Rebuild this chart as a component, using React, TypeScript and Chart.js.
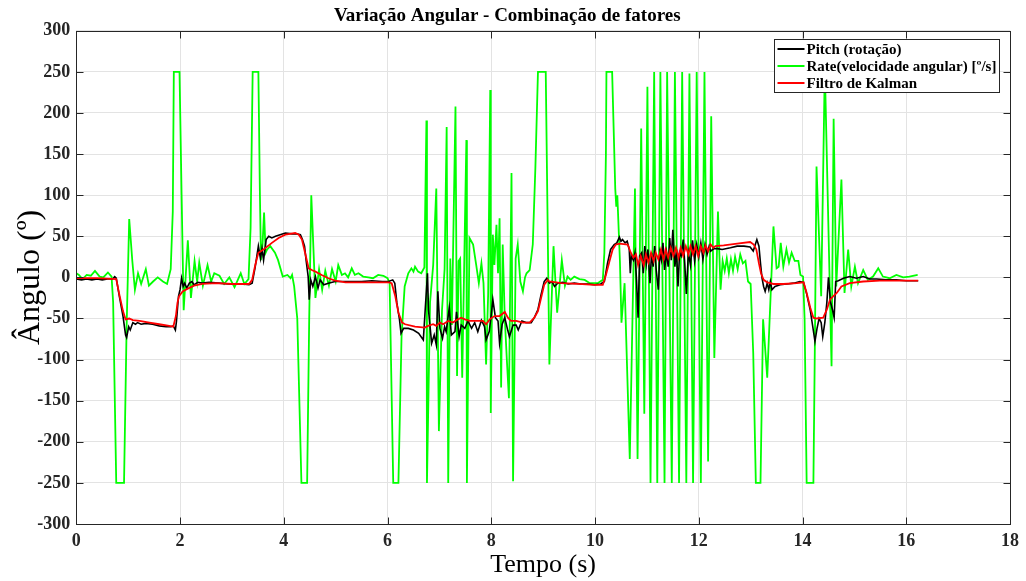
import React, { useEffect, useRef } from 'react';
import { Chart, registerables } from 'chart.js';

Chart.register(...registerables);

const TITLE = 'Variação Angular - Combinação de fatores';
const X_LABEL = 'Tempo (s)';
const Y_LABEL = 'Ângulo (º)';
const SERIES_NAMES = ['Pitch (rotação)', 'Rate(velocidade angular) [º/s]', 'Filtro de Kalman'];
const SERIES_COLORS = ['#000000', '#00ff00', '#ff0000'];
const X_TICKS = [0, 2, 4, 6, 8, 10, 12, 14, 16, 18];
const Y_TICKS = [-300, -250, -200, -150, -100, -50, 0, 50, 100, 150, 200, 250, 300];

// [time (s), value]
const pitchPts: [number, number][] = [
  [0, -2], [0.1, -3], [0.2, -2], [0.3, -3], [0.4, -2], [0.5, -3], [0.6, -2], [0.7, -2], [0.74, 1], [0.77, -1],
  [0.83, -23], [0.9, -47], [0.95, -70], [0.97, -73], [1.01, -60], [1.04, -64], [1.09, -55], [1.14, -57], [1.18, -55],
  [1.25, -57], [1.34, -56], [1.47, -57], [1.6, -59], [1.73, -60], [1.82, -60], [1.87, -59], [1.91, -64], [1.93, -54],
  [1.97, -23], [2.0, -15], [2.03, -1], [2.06, -11], [2.09, -7], [2.13, -13], [2.18, -7], [2.23, -5], [2.27, -9],
  [2.34, -6], [2.43, -7], [2.56, -6], [2.75, -7], [2.94, -8], [3.2, -8], [3.33, -9], [3.39, -7], [3.45, 13],
  [3.51, 38], [3.55, 23], [3.58, 35], [3.61, 21], [3.66, 46], [3.71, 50], [3.77, 48], [3.84, 50], [3.93, 52],
  [4.03, 54], [4.16, 53], [4.25, 53], [4.32, 52], [4.36, 46], [4.4, 38], [4.43, 21], [4.47, 1], [4.49, -27],
  [4.52, -3], [4.56, -11], [4.61, 1], [4.66, -13], [4.7, -3], [4.77, -9], [4.86, -7], [4.99, -5], [5.1, -5],
  [5.3, -5], [5.5, -5], [5.7, -4], [5.9, -5], [6.02, -5], [6.1, -3], [6.14, -7], [6.18, -31], [6.23, -51],
  [6.26, -68], [6.31, -62], [6.4, -62], [6.5, -64], [6.6, -68], [6.69, -76], [6.77, 5], [6.79, -40], [6.85, -80],
  [6.9, -70], [6.94, -82], [6.97, -17], [7.01, -62], [7.06, -74], [7.1, -60], [7.13, -66], [7.19, -37], [7.23, -70],
  [7.3, -66], [7.33, -42], [7.38, -72], [7.42, -58], [7.49, -62], [7.55, -53], [7.62, -62], [7.68, -55], [7.74, -66],
  [7.81, -52], [7.87, -60], [7.9, -76], [7.96, -66], [8.0, -45], [8.03, -27], [8.08, -49], [8.13, -53], [8.16, -80],
  [8.21, -57], [8.26, -49], [8.32, -65], [8.35, -72], [8.42, -58], [8.48, -58], [8.52, -64], [8.59, -53], [8.67, -55],
  [8.77, -55], [8.83, -49], [8.9, -39], [8.96, -21], [9.02, -5], [9.07, -1], [9.12, -7], [9.17, -5], [9.22, -11],
  [9.28, -7], [9.38, -6], [9.48, -8], [9.6, -7], [9.73, -8], [9.86, -8], [9.99, -9], [10.11, -8], [10.18, -5],
  [10.24, 17], [10.3, 34], [10.37, 40], [10.42, 42], [10.47, 49], [10.5, 44], [10.53, 46], [10.58, 42], [10.62, 44],
  [10.66, 34], [10.68, 5], [10.7, 26], [10.74, 21], [10.77, 30], [10.8, -3], [10.83, -49], [10.86, 26], [10.9, 30],
  [10.93, 5], [10.96, 38], [10.99, 17], [11.02, 34], [11.06, -7], [11.09, 30], [11.12, 13], [11.15, 38], [11.18, 9],
  [11.22, -15], [11.25, 30], [11.28, 21], [11.31, 42], [11.34, 9], [11.38, 30], [11.41, 13], [11.44, 48], [11.47, 21],
  [11.5, 58], [11.54, 13], [11.57, 34], [11.6, -11], [11.63, 30], [11.66, 26], [11.7, 46], [11.73, 17], [11.76, -20],
  [11.8, 30], [11.84, 15], [11.88, 45], [11.92, 20], [11.96, 40], [12.0, 25], [12.04, 42], [12.08, 22], [12.12, 40],
  [12.16, 28], [12.2, 38], [12.23, 32], [12.29, 35], [12.36, 35], [12.45, 34], [12.61, 36], [12.74, 38], [12.87, 38],
  [12.99, 37], [13.05, 32], [13.09, 40], [13.12, 46], [13.16, 38], [13.19, 17], [13.22, -1], [13.25, -11], [13.28, -17],
  [13.32, -7], [13.35, -15], [13.38, -5], [13.41, -15], [13.47, -11], [13.57, -9], [13.7, -8], [13.83, -7], [13.95, -5],
  [14.02, -6], [14.08, -20], [14.15, -40], [14.21, -65], [14.24, -78], [14.28, -62], [14.32, -50], [14.36, -55],
  [14.39, -72], [14.43, -55], [14.47, -30], [14.5, 0], [14.54, -30], [14.58, -40], [14.61, -49], [14.64, -5],
  [14.69, -4], [14.79, -1], [14.91, 1], [15.04, -1], [15.17, 1], [15.3, -2], [15.43, -2], [15.62, -3], [15.81, -3],
  [16.0, -4], [16.23, -4],
];

const ratePts: [number, number][] = [
  [0, 5], [0.05, 3], [0.12, -2], [0.2, 3], [0.28, 2], [0.36, 8], [0.45, 1], [0.52, 0], [0.61, 6], [0.68, 1],
  [0.71, -30], [0.77, -250], [0.92, -250], [0.97, -60], [1.02, 71], [1.08, 20], [1.13, -15], [1.19, 5], [1.25, -8],
  [1.3, 2], [1.34, 10], [1.4, -10], [1.48, -5], [1.57, 0], [1.67, -5], [1.75, -8], [1.82, 10], [1.86, 80],
  [1.88, 250], [1.99, 250], [2.03, 100], [2.07, -40], [2.15, 45], [2.21, -25], [2.28, 20], [2.33, -5], [2.37, 18],
  [2.44, -10], [2.53, 15], [2.6, -5], [2.66, 5], [2.76, 2], [2.85, -8], [2.95, 0], [3.05, -12], [3.17, 5],
  [3.24, -8], [3.32, -2], [3.36, 60], [3.4, 250], [3.51, 250], [3.54, 100], [3.56, 21], [3.59, 40], [3.62, 79],
  [3.65, 30], [3.68, 34], [3.74, 38], [3.83, 30], [3.89, 21], [3.98, 1], [4.07, 3], [4.13, -1], [4.16, 3],
  [4.2, -11], [4.26, -50], [4.34, -250], [4.45, -250], [4.49, -50], [4.53, 100], [4.61, -25], [4.68, 10], [4.74, -15],
  [4.8, 8], [4.87, -10], [4.93, 10], [5.0, -5], [5.05, 15], [5.12, 3], [5.18, 5], [5.24, 0], [5.31, 11],
  [5.37, 3], [5.44, 5], [5.53, 1], [5.63, 0], [5.72, -1], [5.82, 3], [5.92, 2], [6.0, -1], [6.04, -7],
  [6.11, -250], [6.21, -250], [6.27, -72], [6.33, -11], [6.4, 5], [6.46, 11], [6.5, 7], [6.53, 13], [6.59, 7],
  [6.65, 5], [6.71, 12], [6.75, 191], [6.76, -250], [6.82, -30], [6.88, 15], [6.94, 108], [6.99, -187], [7.05, -40],
  [7.1, 10], [7.14, 183], [7.17, -250], [7.21, 23], [7.24, -58], [7.31, 208], [7.34, -120], [7.37, 20], [7.4, 23],
  [7.44, -122], [7.52, 167], [7.53, -250], [7.58, 48], [7.65, 40], [7.71, 15], [7.76, -7], [7.81, 17], [7.85, -7],
  [7.9, -106], [7.94, -20], [7.98, 228], [7.99, -165], [8.03, 52], [8.06, 15], [8.1, 64], [8.13, 5], [8.16, 72],
  [8.19, -134], [8.22, 40], [8.26, -49], [8.3, -100], [8.34, -147], [8.39, 127], [8.42, -248], [8.47, 23], [8.51, 40],
  [8.56, -5], [8.61, -17], [8.65, 0], [8.68, 5], [8.74, 9], [8.8, 40], [8.85, 133], [8.9, 250], [9.05, 250],
  [9.12, -106], [9.2, 38], [9.27, -43], [9.36, 21], [9.42, -10], [9.47, 1], [9.53, -3], [9.6, 1], [9.7, -2],
  [9.8, -3], [9.9, -7], [10.05, -7], [10.15, -3], [10.18, 30], [10.21, 150], [10.22, 250], [10.33, 250], [10.39, 108],
  [10.41, 86], [10.43, 100], [10.48, 20], [10.51, -55], [10.57, -7], [10.67, -221], [10.77, 108], [10.82, -221],
  [10.89, 181], [10.95, -166], [11.01, 232], [11.07, -250], [11.14, 250], [11.2, -250], [11.26, 250], [11.34, -250],
  [11.39, 250], [11.48, -250], [11.54, 250], [11.62, -250], [11.68, 250], [11.76, -250], [11.82, 248], [11.89, -250],
  [11.96, 250], [12.04, -250], [12.11, 250], [12.18, -224], [12.24, 196], [12.3, -98], [12.37, 80], [12.42, -15],
  [12.46, 20], [12.5, 8], [12.54, 23], [12.58, 5], [12.62, 22], [12.66, 8], [12.7, 25], [12.75, 10], [12.8, 28],
  [12.85, 17], [12.9, 20], [12.95, -5], [13.0, -8], [13.05, -92], [13.1, -250], [13.19, -250], [13.24, -51],
  [13.32, -122], [13.44, 62], [13.5, 11], [13.54, 13], [13.58, 42], [13.63, 13], [13.69, 34], [13.74, 18],
  [13.79, 30], [13.85, 20], [13.92, 20], [13.96, 3], [14.01, 1], [14.04, -50], [14.08, -250], [14.21, -250],
  [14.24, -72], [14.27, 135], [14.36, -23], [14.43, 255], [14.56, -108], [14.6, 193], [14.65, -11], [14.75, 119],
  [14.81, -19], [14.88, 34], [14.94, -11], [15.01, 13], [15.07, -7], [15.17, 9], [15.26, -3], [15.36, 1],
  [15.46, 11], [15.55, 1], [15.68, -1], [15.81, 3], [15.94, 0], [16.06, 1], [16.22, 3],
];

const kalmanPts: [number, number][] = [
  [0, -1], [0.4, -1], [0.77, -2], [0.83, -21], [0.9, -41], [0.95, -51], [1.02, -50], [1.09, -52], [1.22, -53],
  [1.41, -55], [1.6, -57], [1.79, -59], [1.87, -60], [1.92, -47], [1.95, -31], [1.98, -23], [2.05, -17], [2.14, -14],
  [2.27, -10], [2.43, -8], [2.69, -7], [3.01, -8], [3.33, -8], [3.39, -3], [3.45, 15], [3.51, 30], [3.61, 34],
  [3.77, 42], [3.9, 48], [4.03, 52], [4.22, 54], [4.29, 52], [4.35, 46], [4.41, 30], [4.48, 11], [4.54, 9],
  [4.61, 7], [4.73, 3], [4.86, -1], [4.99, -4], [5.19, -6], [5.51, -6], [6.02, -6], [6.08, -7], [6.15, -23],
  [6.21, -43], [6.28, -55], [6.34, -57], [6.53, -60], [6.72, -61], [6.78, -59], [6.88, -57], [6.94, -59], [7.01, -55],
  [7.07, -57], [7.17, -53], [7.26, -55], [7.33, -52], [7.42, -49], [7.49, -51], [7.58, -53], [7.71, -53], [7.84, -53],
  [7.9, -57], [7.97, -51], [8.06, -47], [8.16, -47], [8.26, -42], [8.32, -49], [8.38, -53], [8.48, -53], [8.61, -55],
  [8.74, -55], [8.83, -49], [8.9, -41], [8.96, -25], [9.02, -9], [9.09, -3], [9.12, -5], [9.35, -7], [9.67, -8],
  [9.99, -9], [10.15, -9], [10.21, 3], [10.28, 20], [10.34, 34], [10.4, 40], [10.47, 41], [10.63, 40], [10.69, 30],
  [10.74, 24], [10.79, 28], [10.83, 15], [10.88, 26], [10.94, 15], [10.98, 28], [11.03, 18], [11.08, 30], [11.13, 20],
  [11.17, 30], [11.22, 22], [11.27, 34], [11.32, 22], [11.36, 34], [11.41, 24], [11.46, 36], [11.51, 26], [11.56, 36],
  [11.61, 24], [11.65, 36], [11.7, 26], [11.75, 38], [11.8, 28], [11.84, 38], [11.89, 28], [11.94, 38], [11.99, 26],
  [12.04, 38], [12.09, 30], [12.13, 39], [12.18, 32], [12.23, 40], [12.28, 36], [12.32, 38], [12.48, 39], [12.74, 41],
  [12.99, 43], [13.06, 40], [13.11, 34], [13.16, 17], [13.2, 5], [13.25, -3], [13.32, -6], [13.44, -8], [13.63, -8],
  [13.89, -7], [14.02, -6], [14.08, -19], [14.15, -37], [14.21, -49], [14.27, -50], [14.4, -49], [14.47, -39],
  [14.53, -27], [14.59, -23], [14.66, -19], [14.75, -11], [14.91, -7], [15.17, -5], [15.49, -4], [15.81, -4], [16.23, -4],
];

const FONT = "'Liberation Serif', 'Times New Roman', serif";
const AXIS_COLOR = '#262626';
const GRID_COLOR = '#e3e3e3';

const toXY = (pts: [number, number][]) => pts.map(([x, y]) => ({ x, y }));

const matlabPlugin = {
  id: 'matlabDecor',
  afterDatasetsDraw(chart: any) {
    const { ctx, chartArea: a, scales } = chart;
    ctx.save();
    ctx.strokeStyle = AXIS_COLOR;
    ctx.lineWidth = 1;
    const L = Math.round(a.left) + 0.5;
    const R = Math.round(a.right) + 0.5;
    const T = Math.round(a.top) + 0.5;
    const B = Math.round(a.bottom) + 0.5;
    ctx.strokeRect(L, T, R - L, B - T);
    const tl = 7;
    ctx.beginPath();
    scales.x.ticks.forEach((t: any) => {
      const px = Math.round(scales.x.getPixelForValue(t.value)) + 0.5;
      ctx.moveTo(px, B); ctx.lineTo(px, B - tl);
      ctx.moveTo(px, T); ctx.lineTo(px, T + tl);
    });
    scales.y.ticks.forEach((t: any) => {
      const py = Math.round(scales.y.getPixelForValue(t.value)) + 0.5;
      ctx.moveTo(L, py); ctx.lineTo(L + tl, py);
      ctx.moveTo(R, py); ctx.lineTo(R - tl, py);
    });
    ctx.stroke();

    // legend box (inside axes, top-right, like MATLAB 'northeast')
    ctx.font = `bold 15px ${FONT}`;
    const ds = chart.data.datasets;
    const sample = 27;
    const textW = Math.max(...ds.map((d: any) => ctx.measureText(d.label).width));
    const boxW = Math.round(3 + sample + 2 + textW + 3);
    const rowH = 17;
    const boxH = rowH * ds.length + 2;
    const bx = Math.round(a.right - 11 - boxW) + 0.5;
    const by = Math.round(a.top + 8) + 0.5;
    ctx.fillStyle = '#ffffff';
    ctx.fillRect(bx, by, boxW, boxH);
    ctx.strokeStyle = AXIS_COLOR;
    ctx.lineWidth = 1;
    ctx.strokeRect(bx, by, boxW, boxH);
    ds.forEach((d: any, i: number) => {
      const cy = by + 1 + rowH * i + rowH / 2;
      ctx.strokeStyle = d.borderColor;
      ctx.lineWidth = 2;
      ctx.beginPath();
      ctx.moveTo(bx + 3, cy);
      ctx.lineTo(bx + 3 + sample, cy);
      ctx.stroke();
      ctx.fillStyle = '#000000';
      ctx.textBaseline = 'middle';
      ctx.textAlign = 'left';
      ctx.fillText(d.label, bx + 3 + sample + 2, cy + 1);
    });
    ctx.restore();
  },
};

export default function App() {
  const ref = useRef<HTMLCanvasElement | null>(null);

  useEffect(() => {
    if (!ref.current) return;
    const tickFont = { family: FONT, size: 18, weight: 'bold' as const };
    const chart = new Chart(ref.current, {
      type: 'line',
      data: {
        datasets: [
          { label: SERIES_NAMES[0], data: toXY(pitchPts), borderColor: SERIES_COLORS[0], borderWidth: 1.6, pointRadius: 0, tension: 0, order: 1 },
          { label: SERIES_NAMES[1], data: toXY(ratePts), borderColor: SERIES_COLORS[1], borderWidth: 1.8, pointRadius: 0, tension: 0, order: 2 },
          { label: SERIES_NAMES[2], data: toXY(kalmanPts), borderColor: SERIES_COLORS[2], borderWidth: 1.8, pointRadius: 0, tension: 0, order: 0 },
        ],
      },
      options: {
        responsive: false,
        animation: false,
        parsing: false as any,
        layout: { padding: { left: 0, right: 11.5, top: 0, bottom: 0 } },
        plugins: {
          legend: { display: false },
          tooltip: { enabled: false },
          title: {
            display: true,
            text: TITLE,
            color: '#000000',
            font: { family: FONT, size: 19, weight: 'bold' },
            padding: { top: 5, bottom: 3 },
          },
        },
        scales: {
          x: {
            type: 'linear',
            min: X_TICKS[0],
            max: X_TICKS[X_TICKS.length - 1],
            afterBuildTicks: (s: any) => { s.ticks = X_TICKS.map((v) => ({ value: v })); },
            afterFit: (s: any) => { s.height = 57; },
            ticks: { font: tickFont, color: AXIS_COLOR, padding: 7, maxRotation: 0, autoSkip: false },
            grid: { color: GRID_COLOR, drawTicks: false, lineWidth: 1 },
            border: { display: false },
            title: { display: true, text: X_LABEL, color: '#000000', font: { family: FONT, size: 26 }, padding: { top: 0, bottom: 0 } },
          },
          y: {
            type: 'linear',
            min: Y_TICKS[0],
            max: Y_TICKS[Y_TICKS.length - 1],
            afterBuildTicks: (s: any) => { s.ticks = Y_TICKS.map((v) => ({ value: v })); },
            afterFit: (s: any) => { s.width = 76.3; },
            ticks: { font: tickFont, color: AXIS_COLOR, padding: 6, autoSkip: false },
            grid: { color: GRID_COLOR, drawTicks: false, lineWidth: 1 },
            border: { display: false },
            title: { display: true, text: Y_LABEL, color: '#000000', font: { family: FONT, size: 32 }, padding: { top: 11, bottom: 0 } },
          },
        },
      },
      plugins: [matlabPlugin],
    });
    return () => chart.destroy();
  }, []);

  return (
    <div style={{ position: 'fixed', left: 0, top: 0, width: 1026, height: 581, background: '#ffffff' }}>
      <canvas ref={ref} width={1026} height={581} style={{ display: 'block' }} />
    </div>
  );
}
